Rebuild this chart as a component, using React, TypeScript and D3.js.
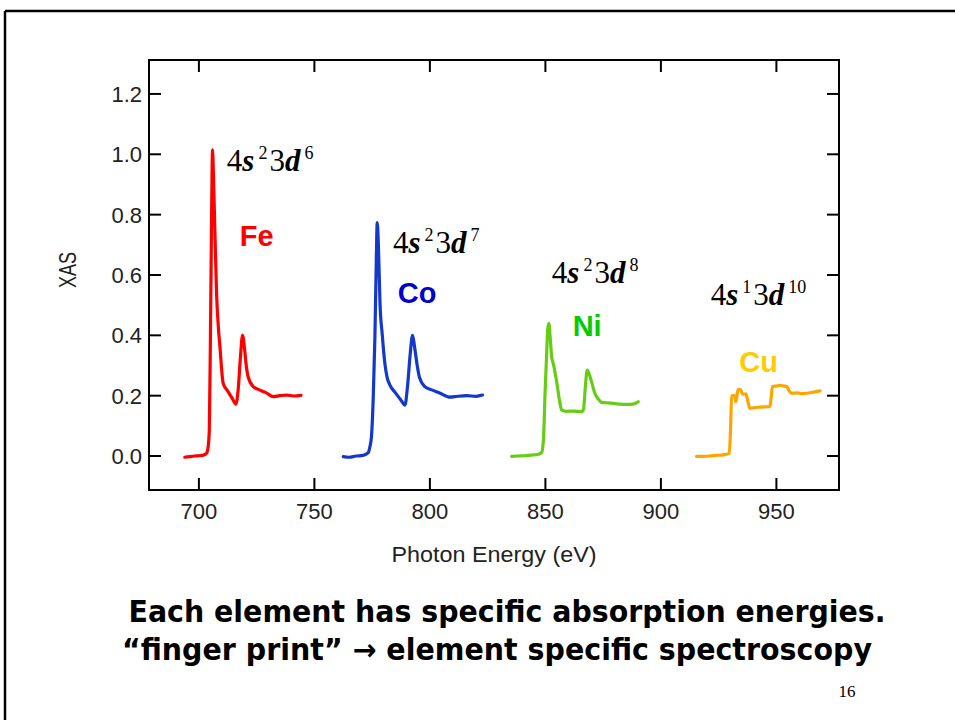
import React from "react";
import * as d3 from "d3";

// ---- data ----
const feEnergy = [693.9, 696, 698, 700, 702, 703.3, 704.0, 704.5, 705.0, 705.5, 705.9, 706.3, 706.9, 707.7, 708.4, 709.1, 710.5, 712.5, 714.5, 716.0, 717.0, 718.0, 718.9, 719.7, 720.5, 721.3, 723.5, 726, 729, 732.2, 735, 738, 741, 744.2];
const feXAS = [-0.004, -0.002, 0.0, 0.001, 0.003, 0.009, 0.03, 0.086, 0.4, 0.8, 1.015, 0.93, 0.75, 0.528, 0.43, 0.363, 0.241, 0.215, 0.19, 0.172, 0.22, 0.33, 0.4, 0.36, 0.3, 0.263, 0.23, 0.22, 0.21, 0.197, 0.2, 0.202, 0.199, 0.201];

const coEnergy = [762.5, 765, 768, 771, 773.3, 774.0, 774.7, 775.5, 776.2, 776.8, 777.2, 777.7, 778.4, 779.4, 780.5, 781.5, 782.7, 785, 787.5, 789.2, 790.3, 791.5, 792.5, 793.4, 794.5, 795.5, 797.8, 800.5, 804, 808.7, 812, 816, 820, 822.8];
const coXAS = [-0.002, -0.004, 0.0, 0.002, 0.011, 0.03, 0.064, 0.2, 0.396, 0.65, 0.774, 0.7, 0.506, 0.4, 0.307, 0.26, 0.235, 0.21, 0.185, 0.169, 0.23, 0.34, 0.4, 0.36, 0.3, 0.26, 0.23, 0.22, 0.21, 0.195, 0.198, 0.2, 0.198, 0.202];

const niEnergy = [835.4, 838, 841, 844, 847, 848.4, 849.2, 849.8, 850.5, 851.0, 851.5, 852.0, 852.7, 853.6, 855.0, 856.2, 857.0, 859, 862, 865.7, 866.5, 867.3, 868.1, 869.0, 870.2, 871.4, 872.8, 874.3, 877, 880, 882.3, 885, 888, 890.2];
const niXAS = [-0.001, 0.0, 0.001, 0.003, 0.006, 0.012, 0.06, 0.197, 0.33, 0.42, 0.44, 0.4, 0.33, 0.3, 0.24, 0.18, 0.153, 0.148, 0.149, 0.147, 0.155, 0.23, 0.285, 0.27, 0.24, 0.208, 0.19, 0.178, 0.176, 0.174, 0.172, 0.171, 0.172, 0.18];

const cuEnergy = [915.4, 918, 921, 924, 927, 929.6, 930.2, 930.6, 931.5, 932.0, 932.4, 932.9, 933.5, 934.5, 935.4, 936.8, 937.7, 938.5, 940, 943, 945, 947.2, 947.8, 948.3, 950, 951.5, 953, 954.5, 955.6, 956.6, 959, 961, 963.1, 966, 968.9];
const cuXAS = [-0.001, -0.001, 0.0, 0.002, 0.004, 0.009, 0.1, 0.199, 0.2, 0.199, 0.18, 0.2, 0.221, 0.219, 0.205, 0.206, 0.18, 0.158, 0.16, 0.162, 0.163, 0.164, 0.2, 0.23, 0.232, 0.234, 0.232, 0.23, 0.215, 0.208, 0.209, 0.207, 0.208, 0.212, 0.216];

const elements = ["Fe", "Co", "Ni", "Cu"];
const configs = [
  { s: "2", d: "6" },
  { s: "2", d: "7" },
  { s: "2", d: "8" },
  { s: "1", d: "10" },
];
const xTicks = [700, 750, 800, 850, 900, 950];
const yTicks = [0.0, 0.2, 0.4, 0.6, 0.8, 1.0, 1.2];

// annotation anchors in data coordinates
const labelAnchors = [
  [717.7, 0.697],
  [786.1, 0.506],
  [861.8, 0.398],
  [933.9, 0.28],
];
const configAnchors = [
  [712.1, 0.945],
  [784.0, 0.673],
  [852.8, 0.574],
  [921.6, 0.501],
];

const lineColors = ["#ff0000", "#1438cc", "#66cc14", "#ffa500"];
const labelColors = ["#ff0000", "#0000cc", "#00cc00", "#ffcc00"];

const captionLines = [
  "Each element has specific absorption energies.",
  "\u201cfinger print\u201d \u2192 element specific spectroscopy",
];

export default function App() {
  const W = 955, H = 720;
  const left = 149, right = 839, top = 60, bottom = 490;
  const x = d3.scaleLinear().domain([678.4, 977.1]).range([left, right]);
  const y = d3.scaleLinear().domain([-0.1126, 1.3125]).range([bottom, top]);

  const series = [
    [feEnergy, feXAS],
    [coEnergy, coXAS],
    [niEnergy, niXAS],
    [cuEnergy, cuXAS],
  ];
  const line = d3
    .line<[number, number]>()
    .x((d) => x(d[0]))
    .y((d) => y(d[1]))
    .curve(d3.curveMonotoneX);

  const tickLen = 12;
  const sans = "'Liberation Sans', Arial, sans-serif";
  const serif = "'Liberation Serif', 'Times New Roman', serif";
  const capFont = "'DejaVu Sans', Verdana, sans-serif";

  return (
    <svg
      width={W}
      height={H}
      style={{ position: "absolute", left: 0, top: 0, background: "#fff" }}
    >
      <rect x={0} y={0} width={W} height={H} fill="#fff" />
      {/* slide border */}
      <line x1={5} y1={11} x2={W} y2={11} stroke="#000" strokeWidth={2.5} />
      <line x1={5} y1={11} x2={5} y2={H} stroke="#000" strokeWidth={2.5} />

      {/* curves */}
      {series.map(([ex, vy], i) => (
        <path
          key={i}
          d={line(ex.map((e, k) => [e, vy[k]] as [number, number])) || ""}
          fill="none"
          stroke={lineColors[i]}
          strokeWidth={3.2}
          strokeLinejoin="round"
          strokeLinecap="round"
        />
      ))}

      {/* frame */}
      <rect x={left} y={top} width={right - left} height={bottom - top} fill="none" stroke="#000" strokeWidth={2} />
      {xTicks.map((t) => (
        <g key={"x" + t}>
          <line x1={x(t)} x2={x(t)} y1={bottom} y2={bottom - tickLen} stroke="#000" strokeWidth={2} />
          <line x1={x(t)} x2={x(t)} y1={top} y2={top + tickLen} stroke="#000" strokeWidth={2} />
          <text x={x(t)} y={bottom + 29} textAnchor="middle" fontFamily={sans} fontSize={22} fill="#222">
            {t}
          </text>
        </g>
      ))}
      {yTicks.map((t) => (
        <g key={"y" + t}>
          <line x1={left} x2={left + tickLen} y1={y(t)} y2={y(t)} stroke="#000" strokeWidth={2} />
          <line x1={right} x2={right - tickLen} y1={y(t)} y2={y(t)} stroke="#000" strokeWidth={2} />
          <text x={142} y={y(t) + 8} textAnchor="end" fontFamily={sans} fontSize={22} fill="#222">
            {t.toFixed(1)}
          </text>
        </g>
      ))}
      <text
        transform={`translate(76,270) rotate(-90)`}
        textAnchor="middle"
        fontFamily={sans}
        fontSize={23}
        textLength={36}
        lengthAdjust="spacingAndGlyphs"
        fill="#222"
      >
        XAS
      </text>
      <text x={494} y={562} textAnchor="middle" fontFamily={sans} fontSize={22} fill="#222" textLength={205} lengthAdjust="spacingAndGlyphs">
        Photon Energy (eV)
      </text>

      {/* element labels */}
      {elements.map((el, i) => (
        <text
          key={el}
          x={x(labelAnchors[i][0])}
          y={y(labelAnchors[i][1])}
          fontFamily={sans}
          fontWeight="bold"
          fontSize={29}
          fill={labelColors[i]}
        >
          {el}
        </text>
      ))}

      {/* electron configurations */}
      {configs.map((c, i) => (
        <text
          key={"c" + i}
          x={x(configAnchors[i][0])}
          y={y(configAnchors[i][1])}
          fontFamily={serif}
          fontSize={31}
          fill="#000"
        >
          <tspan>4</tspan>
          <tspan fontStyle="italic" fontWeight="bold">s</tspan>
          <tspan dx={4} dy={-12} fontSize={18}>{c.s}</tspan>
          <tspan dx={2} dy={12}>3</tspan>
          <tspan fontStyle="italic" fontWeight="bold">d</tspan>
          <tspan dx={4} dy={-12} fontSize={18}>{c.d}</tspan>
        </text>
      ))}

      {/* caption */}
      <text x={507} y={622} textAnchor="middle" fontFamily={capFont} fontWeight="bold" fontSize={30} textLength={757} lengthAdjust="spacingAndGlyphs" fill="#000">
        {captionLines[0]}
      </text>
      <text x={497} y={660} textAnchor="middle" fontFamily={capFont} fontWeight="bold" fontSize={30} textLength={750} lengthAdjust="spacingAndGlyphs" fill="#000">
        {captionLines[1]}
      </text>
      <text x={847} y={697} textAnchor="middle" fontFamily={serif} fontSize={17} fill="#000">
        16
      </text>
    </svg>
  );
}
